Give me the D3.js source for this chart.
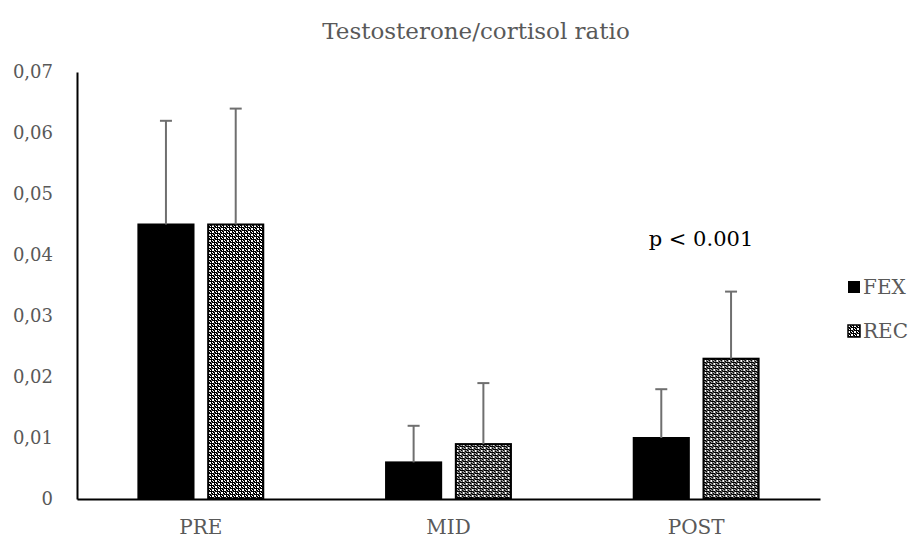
<!DOCTYPE html>
<html>
<head>
<meta charset="utf-8">
<script src="https://cdn.jsdelivr.net/npm/d3@7"></script>
<style>
  html, body { margin: 0; padding: 0; background: #fff; }
  svg { display: block; }
  svg text { font-family: "DejaVu Serif", "Liberation Serif", serif; }
</style>
</head>
<body>
<svg id="chart" width="919" height="542"></svg>
<script>
// Testosterone/cortisol ratio by time point and group
const categories = ["PRE", "MID", "POST"];
const seriesNames = ["FEX", "REC"];
const fexMeans = [0.045, 0.006, 0.010];
const recMeans = [0.045, 0.009, 0.023];
const fexUpper = [0.062, 0.012, 0.018];   // mean + SD
const recUpper = [0.064, 0.019, 0.034];
const yTicks = [0, 0.01, 0.02, 0.03, 0.04, 0.05, 0.06, 0.07];

const FONT = "'DejaVu Serif', 'Liberation Serif', serif";
const svg = d3.select("#chart");
const margin = { left: 77, right: 820, top: 72, bottom: 499 };

const x = d3.scaleBand().domain(categories).range([margin.left, margin.right]);
const xs = d3.scaleBand().domain(seriesNames).range([0, x.bandwidth()])
  .paddingOuter(0.88).paddingInner(0.21);
const y = d3.scaleLinear().domain([0, 0.07]).range([margin.bottom, margin.top]);

// checkered fill for the REC series
const defs = svg.append("defs");
const pat = defs.append("pattern").attr("id", "checks")
  .attr("width", 6).attr("height", 6).attr("patternUnits", "userSpaceOnUse");
pat.append("rect").attr("width", 6).attr("height", 6).attr("fill", "#000");
const cells = [
  [0, 0, 2, "#fff"], [3, 3, 2, "#fff"],
  [4, 1, 1, "#fff"], [1, 4, 1, "#fff"],
  [3, 0, 1, "#fff"], [0, 3, 1, "#fff"],
  [2, 2, 1, "#999"], [5, 5, 1, "#999"]
];
cells.forEach(([cx, cy, s, f]) =>
  pat.append("rect").attr("x", cx).attr("y", cy).attr("width", s).attr("height", s).attr("fill", f));

const fills = { FEX: "#000", REC: "url(#checks)" };

const rows = categories.map((c, i) => ({
  cat: c,
  vals: [
    { s: "FEX", v: fexMeans[i], up: fexUpper[i] },
    { s: "REC", v: recMeans[i], up: recUpper[i] }
  ]
}));

// title
svg.append("text").attr("x", 476).attr("y", 39)
  .attr("text-anchor", "middle").attr("fill", "#595959")
  .attr("font-size", 23).text("Testosterone/cortisol ratio");

// y axis
const yAxis = d3.axisLeft(y).tickValues(yTicks).tickSize(0).tickPadding(24)
  .tickFormat(d => d === 0 ? "0" : d3.format(".2f")(d).replace(".", ","));
const gy = svg.append("g").attr("transform", `translate(${margin.left},0)`).call(yAxis);
gy.attr("font-family", FONT);
gy.select(".domain").attr("stroke", "#000").attr("stroke-width", 2);
gy.selectAll("text").attr("fill", "#595959").attr("font-size", 18);

// bars
const groups = svg.append("g").selectAll("g").data(rows).join("g")
  .attr("transform", d => `translate(${x(d.cat)},0)`);

groups.selectAll("rect").data(d => d.vals).join("rect")
  .attr("x", d => xs(d.s))
  .attr("y", d => y(d.v))
  .attr("width", xs.bandwidth())
  .attr("height", d => y(0) - y(d.v))
  .attr("fill", d => fills[d.s])
  .attr("stroke", "#000").attr("stroke-width", 2);

// error bars (upper only)
const eb = groups.selectAll("g.err").data(d => d.vals).join("g").attr("class", "err");
eb.append("line")
  .attr("x1", d => xs(d.s) + xs.bandwidth() / 2)
  .attr("x2", d => xs(d.s) + xs.bandwidth() / 2)
  .attr("y1", d => y(d.v)).attr("y2", d => y(d.up))
  .attr("stroke", "#6f6f6f").attr("stroke-width", 2);
eb.append("line")
  .attr("x1", d => xs(d.s) + xs.bandwidth() / 2 - 6)
  .attr("x2", d => xs(d.s) + xs.bandwidth() / 2 + 6)
  .attr("y1", d => y(d.up)).attr("y2", d => y(d.up))
  .attr("stroke", "#6f6f6f").attr("stroke-width", 2);

// x axis
const xAxis = d3.axisBottom(x).tickSize(0).tickPadding(21);
const gx = svg.append("g").attr("transform", `translate(0,${margin.bottom})`).call(xAxis);
gx.attr("font-family", FONT);
gx.select(".domain").attr("stroke", "#000").attr("stroke-width", 2);
gx.selectAll("text").attr("fill", "#595959").attr("font-size", 20);

// significance note
svg.append("text").attr("x", 701).attr("y", 246)
  .attr("text-anchor", "middle").attr("fill", "#000")
  .attr("font-size", 21).text("p < 0.001");

// legend
const legend = svg.append("g").selectAll("g").data(seriesNames).join("g")
  .attr("transform", (d, i) => `translate(848,${281 + i * 44})`);
legend.append("rect").attr("width", 12).attr("height", 12)
  .attr("fill", d => fills[d]).attr("stroke", "#000").attr("stroke-width", d => d === "REC" ? 1.5 : 0);
legend.append("text").attr("x", 15).attr("y", 13)
  .attr("fill", "#595959").attr("font-size", 20).text(d => d);
</script>
</body>
</html>
